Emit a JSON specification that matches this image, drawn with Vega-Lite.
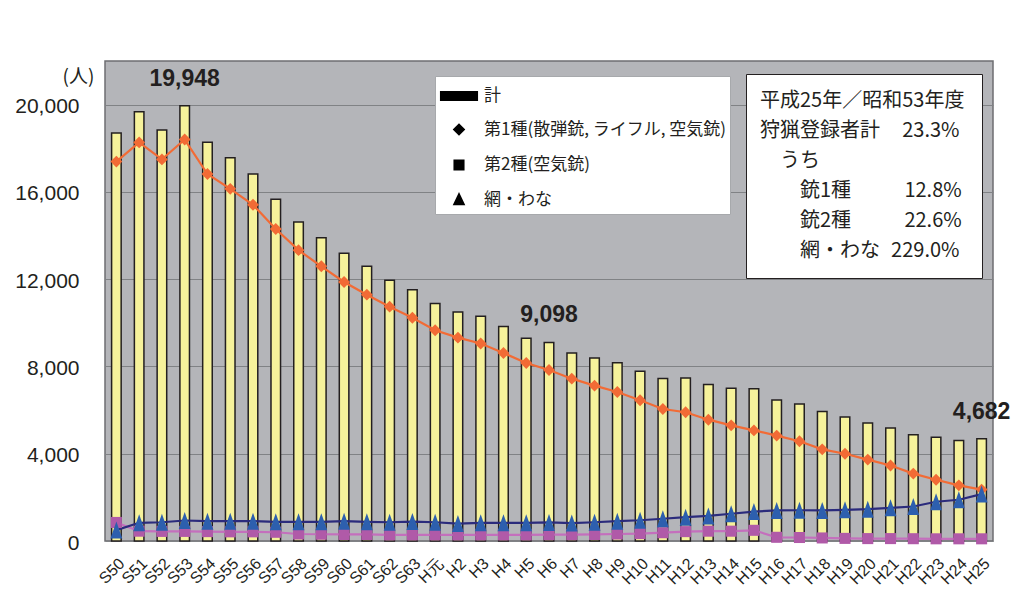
{
  "$schema": "https://vega.github.io/schema/vega-lite/v6.json",
  "width": 888,
  "height": 480,
  "autosize": {"type": "none"},
  "padding": {"left": 105, "top": 61, "right": 26, "bottom": 69},
  "background": "white",
  "data": {
    "values": [
      {"年度": "S50", "計": 18700, "第1種": 17390, "第2種": 850, "網・わな": 500},
      {"年度": "S51", "計": 19670, "第1種": 18270, "第2種": 450, "網・わな": 835},
      {"年度": "S52", "計": 18840, "第1種": 17490, "第2種": 440, "網・わな": 860},
      {"年度": "S53", "計": 19948, "第1種": 18400, "第2種": 440, "網・わな": 940},
      {"年度": "S54", "計": 18280, "第1種": 16820, "第2種": 430, "網・わな": 910},
      {"年度": "S55", "計": 17570, "第1種": 16140, "第2種": 420, "網・わな": 910},
      {"年度": "S56", "計": 16820, "第1種": 15410, "第2種": 420, "網・わな": 910},
      {"年度": "S57", "計": 15660, "第1種": 14300, "第2種": 400, "網・わな": 880},
      {"年度": "S58", "計": 14620, "第1種": 13330, "第2種": 320, "網・わな": 880},
      {"年度": "S59", "計": 13900, "第1種": 12590, "第2種": 310, "網・わな": 880},
      {"年度": "S60", "計": 13190, "第1種": 11870, "第2種": 300, "網・わな": 910},
      {"年度": "S61", "計": 12590, "第1種": 11290, "第2種": 300, "網・わな": 880},
      {"年度": "S62", "計": 11950, "第1種": 10740, "第2種": 280, "網・わな": 860},
      {"年度": "S63", "計": 11520, "第1種": 10230, "第2種": 280, "網・わな": 890},
      {"年度": "H元", "計": 10890, "第1種": 9660, "第2種": 280, "網・わな": 860},
      {"年度": "H2", "計": 10500, "第1種": 9320, "第2種": 280, "網・わな": 800},
      {"年度": "H3", "計": 10300, "第1種": 9050, "第2種": 280, "網・わな": 835},
      {"年度": "H4", "計": 9830, "第1種": 8620, "第2種": 280, "網・わな": 835},
      {"年度": "H5", "計": 9290, "第1種": 8160, "第2種": 280, "網・わな": 835},
      {"年度": "H6", "計": 9098, "第1種": 7840, "第2種": 290, "網・わな": 850},
      {"年度": "H7", "計": 8620, "第1種": 7440, "第2種": 290, "網・わな": 820},
      {"年度": "H8", "計": 8390, "第1種": 7120, "第2種": 300, "網・わな": 860},
      {"年度": "H9", "計": 8170, "第1種": 6830, "第2種": 320, "網・わな": 910},
      {"年度": "H10", "計": 7780, "第1種": 6450, "第2種": 340, "網・わな": 950},
      {"年度": "H11", "計": 7450, "第1種": 6050, "第2種": 380, "網・わな": 1020},
      {"年度": "H12", "計": 7470, "第1種": 5900, "第2種": 430, "網・わな": 1090},
      {"年度": "H13", "計": 7170, "第1種": 5560, "第2種": 450, "網・わな": 1150},
      {"年度": "H14", "計": 7000, "第1種": 5300, "第2種": 450, "網・わな": 1250},
      {"年度": "H15", "計": 6980, "第1種": 5070, "第2種": 490, "網・わな": 1350},
      {"年度": "H16", "計": 6460, "第1種": 4830, "第2種": 170, "網・わな": 1400},
      {"年度": "H17", "計": 6280, "第1種": 4570, "第2種": 160, "網・わな": 1410},
      {"年度": "H18", "計": 5940, "第1種": 4200, "第2種": 140, "網・わな": 1400},
      {"年度": "H19", "計": 5680, "第1種": 4000, "第2種": 120, "網・わな": 1430},
      {"年度": "H20", "計": 5410, "第1種": 3730, "第2種": 110, "網・わな": 1460},
      {"年度": "H21", "計": 5180, "第1種": 3460, "第2種": 110, "網・わな": 1520},
      {"年度": "H22", "計": 4870, "第1種": 3090, "第2種": 105, "網・わな": 1580},
      {"年度": "H23", "計": 4750, "第1種": 2810, "第2種": 100, "網・わな": 1800},
      {"年度": "H24", "計": 4610, "第1種": 2550, "第2種": 100, "網・わな": 1890},
      {"年度": "H25", "計": 4682, "第1種": 2355, "第2種": 100, "網・わな": 2150}
    ]
  },
  "encoding": {
    "x": {
      "field": "年度",
      "type": "nominal",
      "title": null,
      "scale": {
        "domain": ["S50", "S51", "S52", "S53", "S54", "S55", "S56", "S57", "S58", "S59", "S60", "S61", "S62", "S63", "H元", "H2", "H3", "H4", "H5", "H6", "H7", "H8", "H9", "H10", "H11", "H12", "H13", "H14", "H15", "H16", "H17", "H18", "H19", "H20", "H21", "H22", "H23", "H24", "H25"],
        "paddingInner": 0.58,
        "paddingOuter": 0.29
      },
      "sort": ["S50", "S51", "S52", "S53", "S54", "S55", "S56", "S57", "S58", "S59", "S60", "S61", "S62", "S63", "H元", "H2", "H3", "H4", "H5", "H6", "H7", "H8", "H9", "H10", "H11", "H12", "H13", "H14", "H15", "H16", "H17", "H18", "H19", "H20", "H21", "H22", "H23", "H24", "H25"],
      "axis": {
        "labelAngle": -45,
        "labelAlign": "right",
        "labelBaseline": "top",
        "labelFont": "Liberation Sans, Arial, sans-serif",
        "labelFontSize": 16,
        "labelPadding": 14,
        "labelOverlap": false,
        "ticks": false,
        "domain": false,
        "grid": false
      }
    },
    "y": {
      "field": "value",
      "type": "quantitative",
      "title": "(人)",
      "scale": {"domain": [0, 22000], "nice": false},
      "axis": {
        "values": [0, 4000, 8000, 12000, 16000, 20000],
        "format": ",d",
        "labelFont": "Liberation Sans, Arial, sans-serif",
        "labelFontSize": 21,
        "labelPadding": 26,
        "labelOffset": 2,
        "ticks": false,
        "domain": false,
        "grid": true,
        "gridColor": "#808285",
        "gridWidth": 1,
        "titleAngle": 0,
        "titleX": -27,
        "titleY": 15,
        "titleAlign": "center",
        "titleBaseline": "middle",
        "titleFont": "Noto Sans CJK JP",
        "titleFontSize": 19,
        "titleFontWeight": "normal"
      }
    }
  },
  "layer": [
    {
      "transform": [
        {"fold": ["計", "第1種", "第2種", "網・わな"], "as": ["series", "value"]},
        {"filter": "datum.series === '計'"}
      ],
      "mark": {"type": "bar", "stroke": "#231f20", "strokeWidth": 1.5, "opacity": 1},
      "encoding": {
        "color": {
          "field": "series",
          "type": "nominal",
          "scale": {
            "domain": ["計", "第1種", "第2種", "網・わな"],
            "range": ["#f6f29b", "#f26b35", "#b05aa8", "#2d5fae"]
          },
          "legend": null
        }
      }
    },
    {
      "transform": [
        {"fold": ["計", "第1種", "第2種", "網・わな"], "as": ["series", "value"]},
        {"filter": "datum.series !== '計'"}
      ],
      "mark": {"type": "line", "strokeWidth": 2.2},
      "encoding": {
        "stroke": {
          "field": "series",
          "type": "nominal",
          "scale": {
            "domain": ["計", "第1種", "第2種", "網・わな"],
            "range": ["#231f20", "#f26b35", "#c46fbd", "#2b2b7c"]
          },
          "legend": null
        }
      }
    },
    {
      "transform": [
        {"fold": ["計", "第1種", "第2種", "網・わな"], "as": ["series", "value"]},
        {"filter": "datum.series !== '計'"}
      ],
      "mark": {"type": "point", "filled": true, "opacity": 1, "size": 289, "strokeWidth": 0},
      "encoding": {
        "color": {"field": "series", "type": "nominal", "legend": null},
        "shape": {
          "field": "series",
          "type": "nominal",
          "scale": {
            "domain": ["第1種", "第2種", "網・わな"],
            "range": ["M0,-0.7L0.7,0L0,0.7L-0.7,0Z", "M-0.65,-0.65H0.65V0.65H-0.65Z", "M0,-1L0.7,1L-0.7,1Z"]
          },
          "legend": null
        }
      }
    },
    {
      "transform": [
        {"fold": ["計", "第1種", "第2種", "網・わな"], "as": ["series", "value"]}
      ],
      "mark": {"type": "point", "filled": true, "opacity": 0},
      "encoding": {
        "fill": {
          "field": "series",
          "type": "nominal",
          "scale": {
            "domain": ["計", "第1種", "第2種", "網・わな"],
            "range": ["#f6f29b", "#f26b35", "#b05aa8", "#2d5fae"]
          },
          "legend": {
            "orient": "none", "direction": "vertical", "legendX": 330, "legendY": 15, "title": null,
            "padding": 4, "rowPadding": 8.5, "symbolSize": 900, "symbolOffset": 4, "labelOffset": 9,
            "labelFont": "Noto Sans CJK JP", "labelFontSize": 17, "labelColor": "#231f20", "labelLimit": 400,
            "fillColor": "white", "strokeColor": "#a7a9ac",
            "symbolOpacity": 1, "symbolStrokeWidth": 2,
            "labelExpr": "datum.value === '第1種' ? '第1種(散弾銃, ライフル, 空気銃)' : datum.value === '第2種' ? '第2種(空気銃)' : datum.value",
            "encode": {"legend": {"strokeWidth": {"value": 1}}}
          }
        },
        "stroke": {
          "field": "series",
          "type": "nominal",
          "scale": {
            "domain": ["計", "第1種", "第2種", "網・わな"],
            "range": ["#231f20", "#f26b35", "#c46fbd", "#2b2b7c"]
          },
          "legend": {
            "orient": "none", "direction": "vertical", "legendX": 330, "legendY": 15, "title": null,
            "padding": 4, "rowPadding": 8.5, "symbolSize": 900, "symbolOffset": 4, "labelOffset": 9,
            "labelFont": "Noto Sans CJK JP", "labelFontSize": 17, "labelColor": "#231f20", "labelLimit": 400,
            "fillColor": "white", "strokeColor": "#a7a9ac",
            "symbolOpacity": 1, "symbolStrokeWidth": 2,
            "labelExpr": "datum.value === '第1種' ? '第1種(散弾銃, ライフル, 空気銃)' : datum.value === '第2種' ? '第2種(空気銃)' : datum.value",
            "encode": {"legend": {"strokeWidth": {"value": 1}}}
          }
        },
        "shape": {
          "field": "series",
          "type": "nominal",
          "scale": {
            "domain": ["計", "第1種", "第2種", "網・わな"],
            "range": [
              "M-1.27,-0.33H1.27V0.33H-1.27Z",
              "M-1.13,0H1.13M0,-0.42L0.42,0L0,0.42L-0.42,0Z",
              "M-1.13,0H1.13M-0.37,-0.37H0.37V0.37H-0.37Z",
              "M-1.13,0H1.13M0,-0.5L0.42,0.38L-0.42,0.38Z"
            ]
          },
          "legend": {
            "orient": "none", "direction": "vertical", "legendX": 330, "legendY": 15, "title": null,
            "padding": 4, "rowPadding": 8.5, "symbolSize": 900, "symbolOffset": 4, "labelOffset": 9,
            "labelFont": "Noto Sans CJK JP", "labelFontSize": 17, "labelColor": "#231f20", "labelLimit": 400,
            "fillColor": "white", "strokeColor": "#a7a9ac",
            "symbolOpacity": 1, "symbolStrokeWidth": 2,
            "labelExpr": "datum.value === '第1種' ? '第1種(散弾銃, ライフル, 空気銃)' : datum.value === '第2種' ? '第2種(空気銃)' : datum.value",
            "encode": {"legend": {"strokeWidth": {"value": 1}}}
          }
        }
      }
    },
    {
      "transform": [
        {"fold": ["計"], "as": ["series", "value"]},
        {"filter": {"field": "年度", "oneOf": ["S53", "H6", "H25"]}}
      ],
      "mark": {
        "type": "text",
        "dy": -27,
        "font": "Liberation Sans, Arial, sans-serif",
        "fontWeight": "bold",
        "fontSize": 23,
        "color": "#231f20"
      },
      "encoding": {
        "text": {"field": "value", "type": "quantitative", "format": ","}
      }
    },
    {
      "data": {
        "values": [
          {"note": "平成25年／昭和53年度"},
          {"note": "狩猟登録者計\u2007\u200723.3%"},
          {"note": "\u200b\u3000うち"},
          {"note": "\u200b\u3000\u3000銃1種\u3000\u2007\u2007\u200712.8%"},
          {"note": "\u200b\u3000\u3000銃2種\u3000\u2007\u2007\u200722.6%"},
          {"note": "\u200b\u3000\u3000網・わな\u2007229.0%"}
        ]
      },
      "mark": {"type": "point", "opacity": 0},
      "encoding": {
        "strokeDash": {
          "field": "note",
          "type": "nominal",
          "scale": {
            "domain": ["平成25年／昭和53年度", "狩猟登録者計\u2007\u200723.3%", "\u200b\u3000うち", "\u200b\u3000\u3000銃1種\u3000\u2007\u2007\u200712.8%", "\u200b\u3000\u3000銃2種\u3000\u2007\u2007\u200722.6%", "\u200b\u3000\u3000網・わな\u2007229.0%"]
          },
          "legend": {
            "orient": "none",
            "direction": "vertical",
            "legendX": 641,
            "legendY": 13,
            "title": null,
            "padding": 17,
            "rowPadding": 10,
            "symbolSize": 0,
            "symbolOpacity": 0,
            "symbolStrokeWidth": 0,
            "labelOffset": -23,
            "labelFont": "Noto Sans CJK JP",
            "labelFontSize": 20,
            "labelColor": "#231f20",
            "labelLimit": 400,
            "fillColor": "white",
            "strokeColor": "#231f20",
            "encode": {
              "legend": {"strokeWidth": {"value": 1.5}}
            }
          }
        }
      }
    }
  ],
  "resolve": {"scale": {"shape": "independent"}},
  "config": {
    "view": {"fill": "#b4b5b9", "stroke": "#6d6e71", "strokeWidth": 1.5},
    "axis": {"labelColor": "#231f20", "titleColor": "#231f20"},
    "legend": {"labelLimit": 400}
  }
}
